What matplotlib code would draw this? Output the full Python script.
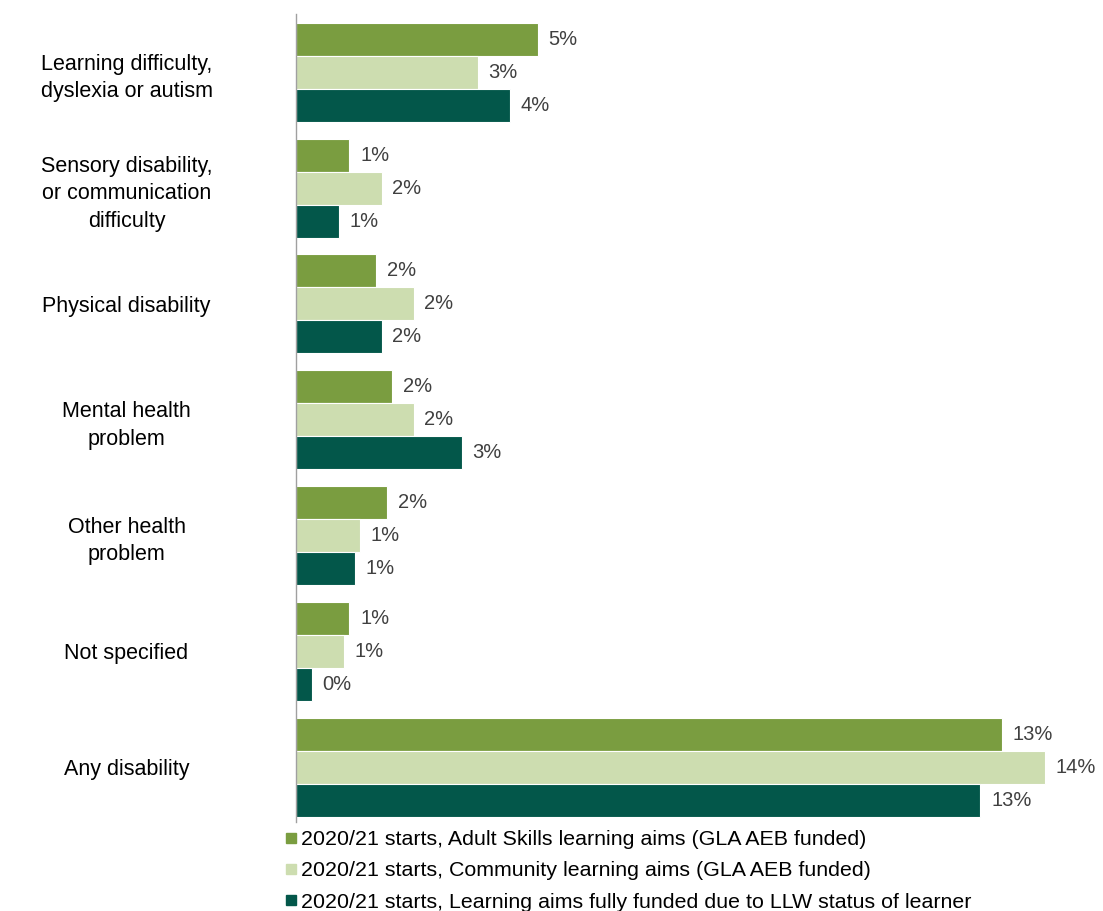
import matplotlib
matplotlib.use("Agg")
import matplotlib.pyplot as plt
from matplotlib.lines import Line2D
import numpy as np

plt.rcParams['font.family'] = ['Liberation Sans', 'DejaVu Sans']

categories = [
    "Learning difficulty,\ndyslexia or autism",
    "Sensory disability,\nor communication\ndifficulty",
    "Physical disability",
    "Mental health\nproblem",
    "Other health\nproblem",
    "Not specified",
    "Any disability",
]
series_names = [
    "2020/21 starts, Adult Skills learning aims (GLA AEB funded)",
    "2020/21 starts, Community learning aims (GLA AEB funded)",
    "2020/21 starts, Learning aims fully funded due to LLW status of learner",
]
adult_skills = [4.52, 1.0, 1.5, 1.8, 1.7, 1.0, 13.2]
community = [3.4, 1.6, 2.2, 2.2, 1.2, 0.9, 14.0]
llw = [4.0, 0.8, 1.6, 3.1, 1.1, 0.3, 12.8]
colors = ["#7A9D40", "#CDDDB0", "#03574A"]

fig = plt.figure(figsize=(11.03, 9.11), dpi=100)
ax = fig.add_axes([296 / 1103, 1 - 822 / 911, 802 / 1103, 808 / 911])

y = np.arange(len(categories))
h = 0.285
offsets = [-h, 0, h]
for vals, off, col in zip([adult_skills, community, llw], offsets, colors):
    bars = ax.barh(y + off, vals, height=h, color=col, edgecolor="white", linewidth=0.8)
    for b, v in zip(bars, vals):
        ax.text(b.get_width() + 0.2, b.get_y() + b.get_height() / 2, f"{v:.0f}%",
                va="center", ha="left", fontsize=14.5, color="#404040")

ax.set_xlim(0, 15)
ax.set_ylim(6.475, -0.505)
ax.set_yticks(y)
ax.set_yticklabels(categories, fontsize=15.5, multialignment="center", linespacing=1.4)
ax.tick_params(axis="y", length=0, pad=122)
ax.set_xticks([])
for s in ["top", "right", "bottom"]:
    ax.spines[s].set_visible(False)
ax.spines["left"].set_color("#A0A0A0")
ax.spines["left"].set_linewidth(1.0)
for lbl in ax.get_yticklabels():
    lbl.set_horizontalalignment("center")

handles = [Line2D([], [], marker="s", linestyle="none", markersize=6.5,
                  markerfacecolor=c, markeredgecolor=c) for c in colors]
fig.legend(handles, series_names, loc="upper left",
           bbox_to_anchor=(286 / 1103, 1 - 830 / 911), frameon=False,
           fontsize=15.4, handlelength=0.5, handletextpad=0.2,
           labelspacing=0.58, borderaxespad=0, borderpad=0)

fig.savefig("out.png", dpi=100)
